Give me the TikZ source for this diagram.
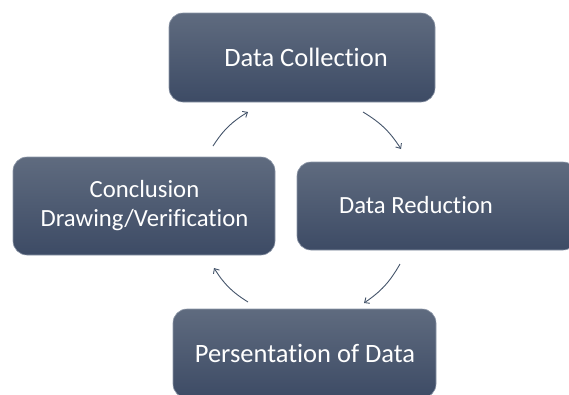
\documentclass[tikz,border=0pt]{standalone}
\usepackage{fontspec}
\setmainfont{Carlito}[Ligatures=NoCommon]
\usetikzlibrary{arrows.meta}
\definecolor{boxtop}{HTML}{5F6B7F}
\definecolor{boxbot}{HTML}{3D4B65}
\definecolor{boxedge}{HTML}{8C96A7}
\definecolor{arrcol}{HTML}{44546A}
\begin{document}
\begin{tikzpicture}[x=1pt,y=-1pt,
  stagebox/.style={rectangle, rounded corners=14pt, top color=boxtop, bottom color=boxbot,
    draw=boxedge, line width=0.6pt, inner sep=0pt},
  stagetext/.style={text=white, font=\fontsize{26.5}{30.5}\selectfont, align=center, inner sep=0pt},
  smalltext/.style={stagetext, font=\fontsize{24.7}{29}\selectfont},
  cyclearrow/.style={draw=arrcol, line width=0.9pt, -{Straight Barb[length=4pt,width=7pt]}}]
\useasboundingbox (0,0) rectangle (569,394);
\clip (0,0) rectangle (569,394);
% boxes
\node[stagebox, minimum width=266pt, minimum height=89pt] (dc) at (302,57.5) {};
\node[stagebox, minimum width=280pt, minimum height=88pt] (dr) at (437,206) {};
\node[stagebox, minimum width=263pt, minimum height=89pt] (pd) at (304.5,353.5) {};
\node[stagebox, minimum width=262pt, minimum height=98pt] (cd) at (144,206) {};
% texts
\node[stagetext] (dct) at (306,57.5) {Data Collection};
\node[smalltext] (drt) at (416,205) {Data Reduction};
\node[stagetext] (pdt) at (305,353.5) {Persentation of Data};
\node[smalltext] (cdt) at (144.5,205.5) {Conclusion\\Drawing/Verification};
% arrows
\coordinate (a1s) at (213,146); \coordinate (a1e) at (248,112);
\coordinate (a2s) at (363,112); \coordinate (a2e) at (401,149);
\coordinate (a3s) at (400,264); \coordinate (a3e) at (364,303);
\coordinate (a4s) at (248,302); \coordinate (a4e) at (214,268);
\draw[cyclearrow] (a1s) to[bend left=13] (a1e);
\draw[cyclearrow] (a2s) to[bend left=13] (a2e);
\draw[cyclearrow] (a3s) to[bend left=13] (a3e);
\draw[cyclearrow] (a4s) to[bend left=13] (a4e);
\end{tikzpicture}
\end{document}
